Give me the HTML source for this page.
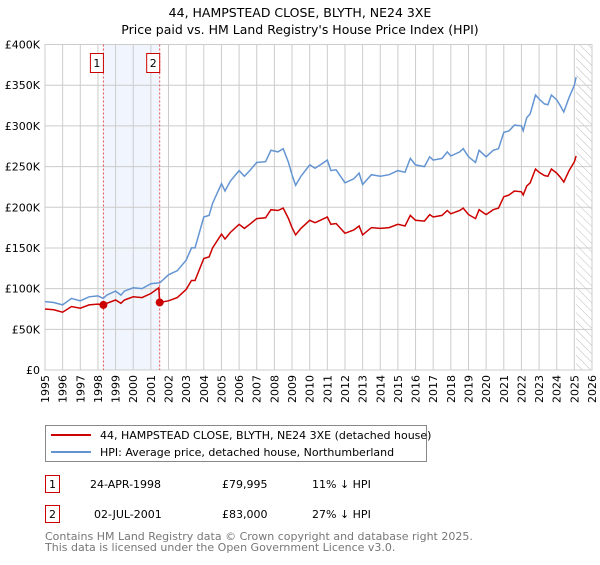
<!DOCTYPE html>
<html><head><meta charset="utf-8"><style>
body{margin:0;background:#fff;font-family:"Liberation Sans","DejaVu Sans",sans-serif;}
svg text{font-family:"DejaVu Sans","Liberation Sans",sans-serif;}
</style></head><body>
<svg width="600" height="560" viewBox="0 0 600 560">
<defs><pattern id="hatch" width="6" height="6" patternUnits="userSpaceOnUse" patternTransform="rotate(-45)"><line x1="0" y1="0" x2="0" y2="6" stroke="#bbb" stroke-width="1"/></pattern></defs>
<text x="300" y="17" text-anchor="middle" font-size="12.5">44, HAMPSTEAD CLOSE, BLYTH, NE24 3XE</text>
<text x="300" y="34" text-anchor="middle" font-size="12.5">Price paid vs. HM Land Registry's House Price Index (HPI)</text>
<g id="plot"></g>
<g>
<rect x="45.5" y="425.5" width="381" height="36" fill="#fff" stroke="#888"/>
<line x1="51" y1="435" x2="91" y2="435" stroke="#cc0000" stroke-width="2"/>
<text x="100" y="439" font-size="11">44, HAMPSTEAD CLOSE, BLYTH, NE24 3XE (detached house)</text>
<line x1="51" y1="452" x2="91" y2="452" stroke="#6495d2" stroke-width="2"/>
<text x="100" y="456" font-size="11">HPI: Average price, detached house, Northumberland</text>
</g>
<g font-size="11">
<rect x="45.5" y="475.5" width="14" height="17" fill="#fff" stroke="#cc0000"/><text x="52.5" y="488" text-anchor="middle">1</text>
<text x="90" y="488">24-APR-1998</text><text x="222" y="488">£79,995</text><text x="312" y="488">11% ↓ HPI</text>
<rect x="45.5" y="505.5" width="14" height="17" fill="#fff" stroke="#cc0000"/><text x="52.5" y="518" text-anchor="middle">2</text>
<text x="94" y="518">02-JUL-2001</text><text x="222" y="518">£83,000</text><text x="312" y="518">27% ↓ HPI</text>
</g>
<text x="45" y="540" font-size="11" fill="#777">Contains HM Land Registry data © Crown copyright and database right 2025.</text>
<text x="45" y="551" font-size="11" fill="#777">This data is licensed under the Open Government Licence v3.0.</text>
</svg>
<script>
const years=[1995.0,1995.5,1996.0,1996.5,1997.0,1997.5,1998.0,1998.3,1998.5,1999.0,1999.3,1999.5,2000.0,2000.5,2001.0,2001.45,2001.5,2002.0,2002.5,2003.0,2003.3,2003.5,2004.0,2004.3,2004.5,2005.0,2005.2,2005.5,2006.0,2006.3,2006.6,2007.0,2007.5,2007.8,2008.2,2008.5,2008.8,2009.0,2009.2,2009.5,2010.0,2010.3,2010.6,2011.0,2011.2,2011.5,2012.0,2012.5,2012.8,2013.0,2013.5,2014.0,2014.5,2015.0,2015.4,2015.7,2016.0,2016.5,2016.8,2017.0,2017.5,2017.8,2018.0,2018.5,2018.7,2019.0,2019.4,2019.6,2020.0,2020.4,2020.7,2021.0,2021.3,2021.6,2022.0,2022.1,2022.3,2022.5,2022.8,2023.0,2023.3,2023.5,2023.7,2024.0,2024.2,2024.4,2024.7,2025.0,2025.1];
const hpi=[84,83,80,88,85,90,91,88,92,97,92,97,101,100,106,107,107,117,122,135,150,150,188,190,205,229,220,232,245,238,245,255,256,270,268,272,255,240,227,238,252,248,252,258,245,246,230,235,242,228,240,238,240,245,243,260,252,250,262,258,260,268,263,268,272,262,255,270,262,270,272,292,294,301,300,294,310,315,338,333,327,326,338,332,325,317,335,350,360];
const price=[75,74,71,78,76,80,81,80,82,86,82,86,90,89,94,101,83,85,89,99,110,110,137,139,150,167,161,169,179,174,179,186,187,197,196,199,186,175,166,174,184,181,184,188,179,180,168,172,177,166,175,174,175,179,177,190,184,183,191,188,190,196,192,196,199,191,186,197,191,197,199,213,215,220,219,215,226,230,247,243,239,238,247,242,237,231,245,256,263];
const saleYears=[1998.31,2001.5];
const saleValues=[80,83];
const saleLabels=["1","2"];
const yTicks=[0,50,100,150,200,250,300,350,400];
const yTickLabels=["£0","£50K","£100K","£150K","£200K","£250K","£300K","£350K","£400K"];
const xTicks=[1995,1996,1997,1998,1999,2000,2001,2002,2003,2004,2005,2006,2007,2008,2009,2010,2011,2012,2013,2014,2015,2016,2017,2018,2019,2020,2021,2022,2023,2024,2025,2026];

const L=45,R=592,T=44.5,B=370,X0=1995,X1=2026,YMAX=400,HATCH=2025.1;
const sx=v=>L+(v-X0)/(X1-X0)*(R-L);
const sy=v=>B-v/YMAX*(B-T);
const NS="http://www.w3.org/2000/svg";
const g=document.getElementById('plot');
function mk(tag,attrs,parent){const e=document.createElementNS(NS,tag);for(const k in attrs)e.setAttribute(k,attrs[k]);(parent||g).appendChild(e);return e;}
mk('rect',{x:L,y:T,width:R-L,height:B-T,fill:'#fff'});
let sh=mk('rect',{x:sx(saleYears[0]),y:T,width:sx(saleYears[1])-sx(saleYears[0]),height:B-T,fill:'#eef3fc',opacity:0.8});


let ht=mk('rect',{x:sx(HATCH),y:T,width:R-sx(HATCH),height:B-T,fill:'url(#hatch)'});


xTicks.forEach(t=>{const x=sx(t);
 const ln=mk('line',{x1:x,y1:T,x2:x,y2:B,stroke:'#ccc','stroke-width':1});
 
 
 const tx=mk('text',{x:0,y:0,'font-size':11,'text-anchor':'end',transform:`translate(${x+4},${B+5}) rotate(-90)`});
 tx.textContent=t;
 
 
});
yTicks.forEach((t,i)=>{const y=sy(t);
 const ln=mk('line',{x1:L,y1:y,x2:R,y2:y,stroke:'#ccc','stroke-width':1});
 
 
 const tx=mk('text',{x:L-5,y:y+4,'font-size':11,'text-anchor':'end'});
 tx.textContent=yTickLabels[i];
 
 
});
const ax=mk('rect',{x:L,y:T,width:R-L,height:B-T,fill:'none',stroke:'#ccc'});


saleYears.forEach((s,i)=>{const x=sx(s);
 const ln=mk('line',{x1:x,y1:T,x2:x,y2:B,stroke:'#e05050','stroke-width':1,'stroke-dasharray':'2,2'});
 
 
});
function path(vals){return years.map((y,i)=>(i?'L':'M')+sx(y).toFixed(1)+','+sy(vals[i]).toFixed(1)).join('');}
const hp=mk('path',{d:path(hpi),fill:'none',stroke:'#6495d2','stroke-width':1.5});


const pp=mk('path',{d:path(price),fill:'none',stroke:'#cc0000','stroke-width':1.5});


saleYears.forEach((s,i)=>{const x=sx(s);
 const c=mk('circle',{cx:x,cy:sy(saleValues[i]),r:4,fill:'#cc0000'});
 
 
 const b=mk('rect',{x:x-13,y:53.5,width:13,height:19,fill:'#fff',stroke:'#cc0000'});
 
 
 const t=mk('text',{x:x-6.5,y:67,'font-size':11,'text-anchor':'middle'});
 t.textContent=saleLabels[i];
 
 
});
</script>
</body></html>
